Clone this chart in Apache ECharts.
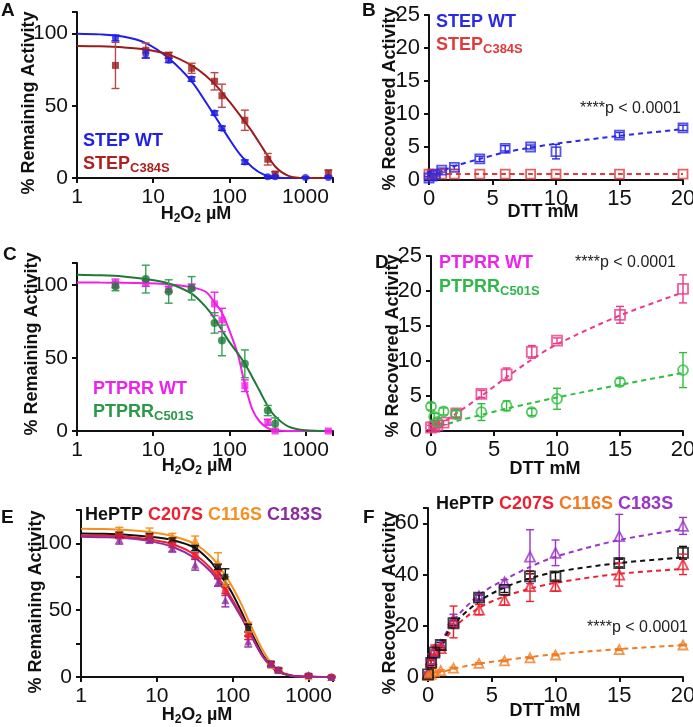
<!DOCTYPE html>
<html><head><meta charset="utf-8">
<script src="https://cdn.jsdelivr.net/npm/echarts@6/dist/echarts.min.js"></script>
<style>html,body{margin:0;padding:0;background:#fff}#c{width:693px;height:727px}</style>
</head><body><div id="c"></div><script>
// ---------- Panel A ----------
const concA_WT = [3.2, 8, 16, 32, 64, 80, 160, 320, 400, 1000, 2000];
const stepWT_A = [97, 86, 81.5, 68.5, 45, 34.5, 11, 0.8, 0.8, 0.3, 0.3];
const stepWT_A_err = [2, 3, 1.5, 1.5, 1.5, 1.5, 1.5, 0.5, 0.5, 0.5, 0.5];
const concA_C384S = [3.2, 8, 16, 32, 64, 80, 160, 320, 400, 2000];
const stepC384S_A = [78, 88.5, 85, 76, 67, 57, 40, 13, 2.8, 3.5];
const stepC384S_A_err = [16, 5, 2, 3.5, 6, 8, 7, 4, 1.5, 2];
const fitConcA = [1, 2, 4, 8, 16, 32, 50, 70, 100, 140, 200, 280, 400, 600, 1000, 2000];
const fitStepWT_A = [100, 99.5, 98, 93.5, 83, 67, 52, 40, 27, 16, 7.5, 2.5, 0.3, 0, 0, 0];
const fitStepC384S_A = [91.5, 91.2, 90.5, 89, 85.5, 78, 70.5, 63, 53, 43, 32, 20, 8, 1.5, 0, 0];
// ---------- Panel B ----------
const dttB = [0, 0.25, 0.5, 1, 2, 4, 6, 8, 10, 15, 20];
const stepWT_B = [0.3, 0.6, 0.8, 1.5, 1.9, 3.2, 4.8, 5.0, 4.3, 6.8, 7.9];
const stepWT_B_err = [0.2, 0.2, 0.2, 0.3, 0.3, 0.4, 0.4, 0.3, 1.1, 0.4, 0.4];
const stepC384S_B = [0.9, 0.9, 0.9, 0.9, 0.9, 0.9, 0.9, 0.9, 0.9, 0.9, 0.9];
const fitDttB = [0, 1, 2, 4, 6, 8, 10, 15, 20];
const fitStepWT_B = [0, 1.3, 2.1, 3.2, 4.2, 4.9, 5.5, 6.7, 7.7];
const fitStepC384S_B = [0.9, 0.9, 0.9, 0.9, 0.9, 0.9, 0.9, 0.9, 0.9];
// ---------- Panel C ----------
const concC_WT = [3.2, 8, 16, 32, 64, 80, 160, 320, 400, 2000];
const ptprrWT_C = [101, 101, 97, 98.5, 87, 76, 31, 6, 0, 0];
const ptprrWT_C_err = [3, 2, 2, 2, 8, 8, 4, 2, 0.5, 0.5];
const concC_C501S = [3.2, 8, 16, 32, 64, 80, 160, 320, 400];
const ptprrC501S_C = [99, 104, 95.5, 97.7, 74, 62, 46, 14, 5];
const ptprrC501S_C_err = [3, 9.5, 8, 8, 7, 10.5, 9.5, 3.5, 4];
const fitConcC = [1, 2, 4, 8, 16, 32, 50, 64, 80, 100, 130, 160, 200, 250, 320, 400, 600, 1000, 2000];
const fitWT_C = [101.7, 101.6, 101.5, 101.2, 100.5, 98.5, 95, 88, 81, 69, 52, 32, 15, 6.5, 2, 0.5, 0, 0, 0];
const fitC501S_C = [107, 106.6, 105.8, 104, 101, 94, 84.5, 77, 69, 61, 53, 46, 37, 27.5, 17, 10, 3, 0.5, 0];
// ---------- Panel D ----------
const dttD = [0, 0.25, 0.5, 1, 2, 4, 6, 8, 10, 15, 20];
const ptprrWT_D = [0.5, 0.6, 0.8, 1.2, 2.5, 5.3, 8.1, 11.3, 12.9, 16.6, 20.3];
const ptprrWT_D_err = [0.3, 0.3, 0.3, 0.3, 0.5, 0.5, 0.9, 0.9, 0.4, 1.2, 2];
const ptprrC501S_D = [3.5, 2, 1.3, 2.8, 2.4, 2.7, 3.6, 2.7, 4.6, 7, 8.7];
const ptprrC501S_D_err = [0.5, 0.5, 0.5, 0.5, 0.5, 1.2, 0.7, 0.5, 1.5, 0.5, 2.5];
const fitDttD = [0, 1, 2, 4, 6, 8, 10, 15, 20];
const fitWT_D = [0.2, 1.3, 2.5, 5, 7.7, 10.2, 12.4, 16.5, 19.8];
const fitC501S_D = [0.2, 0.8, 1.4, 2.3, 3.2, 4, 4.8, 6.6, 8.3];
// ---------- Panel E ----------
const concE = [3.2, 8, 16, 32, 64, 80, 160, 320, 400, 1000, 2000];
const heptp_E = [106.5, 105.5, 102.5, 96.5, 82.5, 75, 36.5, 10, 5.5, 1, 0];
const heptp_E_err = [2, 2, 1.5, 2, 2, 6, 3, 1.5, 1, 0.5, 0.5];
const c207s_E = [105.5, 104.5, 99, 91, 76.5, 64, 31, 9.5, 5, 1, 0];
const c207s_E_err = [2, 2, 2, 2, 3, 3, 3, 1.5, 1, 0.5, 0.5];
const c116s_E = [110, 108.5, 105.5, 102.5, 86, 71, 36, 9, 5, 0.5, 0];
const c116s_E_err = [2, 3, 2, 3, 7, 4, 5, 1.5, 1, 0.5, 0.5];
const c183s_E = [103, 102.5, 96.5, 84, 71, 57.5, 26.5, 9.7, 5.2, 1.5, 0];
const c183s_E_err = [3.5, 2, 3, 4, 3, 5, 4, 2, 1.5, 1, 0.5];
const fitConcE = [1, 2, 4, 8, 16, 32, 50, 64, 80, 100, 130, 160, 200, 250, 320, 400, 600, 1000, 2000];
const fitHeptp_E = [107.5, 107.2, 106.5, 105, 102.5, 96.5, 87, 79, 71, 62, 49, 38, 27, 16.5, 8.5, 4, 1, 0.2, 0];
const fitC207s_E = [106, 105.7, 105, 103, 99.5, 91.5, 82, 74.5, 66.5, 57.5, 46, 36, 25, 15.5, 8, 3.8, 0.9, 0.1, 0];
const fitC116s_E = [111, 110.7, 110, 108.5, 105.5, 99.5, 91, 84, 76, 67, 54.5, 43, 31, 20, 10.5, 5, 1.2, 0.2, 0];
const fitC183s_E = [105, 104.6, 103.8, 101.7, 97.5, 89, 79.5, 72, 64.5, 55.5, 44.5, 35, 24.5, 15, 7.8, 3.7, 0.9, 0.1, 0];
// ---------- Panel F ----------
const dttF = [0, 0.25, 0.5, 1, 2, 4, 6, 8, 10, 15, 20];
const heptp_F = [1, 5.5, 9.5, 12.5, 21, 31, 34, 39.3, 39.3, 44.5, 48.5];
const heptp_F_err = [0.5, 1, 1, 1, 1, 1, 1, 1, 1.5, 1.5, 2.5];
const c207s_F = [1, 6, 10.5, 11.3, 21.5, 26.3, 30, 35.5, 35.5, 40, 44];
const c207s_F_err = [0.5, 1, 2, 1, 6.2, 2, 2, 6, 2, 4.5, 4];
const c116s_F = [0.5, 1, 2, 2.5, 3.5, 5.3, 6.3, 7.5, 8.6, 10.7, 12.5];
const c116s_F_err = [0.3, 0.3, 0.3, 0.3, 0.3, 0.3, 0.3, 0.3, 0.3, 0.3, 0.3];
const c183s_F = [1.5, 7, 10, 12.5, 22.5, 31.5, 37, 47, 48.5, 55, 59];
const c183s_F_err = [0.5, 2, 2, 1, 2, 1, 1, 10.5, 5, 8.5, 3.3];
const fitDttF = [0, 0.5, 1, 2, 4, 6, 8, 10, 15, 20];
const fitHeptp_F = [0, 7, 12.5, 20.5, 29.5, 35, 38.5, 41, 44.5, 46.7];
const fitC207s_F = [0, 6.5, 11.5, 19, 27, 31.5, 34.5, 36.8, 40.3, 42.2];
const fitC116s_F = [0, 1, 1.8, 3.2, 5.2, 6.6, 7.8, 8.9, 10.9, 12.4];
const fitC183s_F = [0, 7.5, 13, 22, 32, 38, 43, 47, 53.5, 57.8];
// ---------- Tick labels ----------
const logTickLabels = [1, 10, 100, 1000];
const remTickLabels = [0, 50, 100];
const dttTickLabels = [0, 5, 10, 15, 20];

const FONT = '"Liberation Sans", Arial, sans-serif';
const chart = echarts.init(document.getElementById('c'), null, {renderer: 'canvas'});

const grids = [
  {left: 77, top: 12, width: 256, height: 166},
  {left: 429, top: 15, width: 254, height: 165},
  {left: 77, top: 263, width: 256, height: 168},
  {left: 431, top: 256, width: 252, height: 175},
  {left: 81, top: 510, width: 252, height: 167},
  {left: 428, top: 508, width: 255, height: 169}
].map(g => Object.assign({outerBoundsMode: 'none', containLabel: false}, g));

const axisLineStyle = {show: true, onZero: false, lineStyle: {color: '#111', width: 2}};
const axisTickStyle = {show: true, inside: false, length: 5, lineStyle: {color: '#111', width: 2}};

function logX(idx, max) {
  return {type: 'log', logBase: 10, gridIndex: idx, min: 1, max: max,
    axisLine: axisLineStyle, axisTick: axisTickStyle, splitLine: {show: false},
    axisLabel: {fontSize: 21, color: '#111', fontFamily: FONT, margin: 9,
      formatter: v => { const r = Math.round(v); return (logTickLabels.includes(r) && Math.abs(v - r) < 1e-6) ? String(r) : ''; }}};
}
function linX(idx) {
  return {type: 'value', gridIndex: idx, min: 0, max: 20, interval: 5,
    axisLine: axisLineStyle, axisTick: axisTickStyle, splitLine: {show: false},
    axisLabel: {fontSize: 22, color: '#111', fontFamily: FONT, margin: 8,
      formatter: v => dttTickLabels.includes(v) ? String(v) : ''}};
}
function linY(idx, max, interval, labels, fs) {
  return {type: 'value', gridIndex: idx, min: 0, max: max, interval: interval,
    axisLine: axisLineStyle, axisTick: axisTickStyle, splitLine: {show: false},
    axisLabel: {fontSize: fs, color: '#111', fontFamily: FONT, margin: 9,
      formatter: v => labels.includes(v) ? String(v) : ''}};
}

const xAxes = [logX(0, 2300), linX(1), logX(2, 2300), linX(3), logX(4, 2100), linX(5)];
const yAxes = [
  linY(0, 115, 50, remTickLabels, 21),
  linY(1, 25, 5, [0, 5, 10, 15, 20, 25], 22),
  linY(2, 115, 50, remTickLabels, 21),
  linY(3, 25, 5, [0, 5, 10, 15, 20, 25], 22),
  linY(4, 125, 25, remTickLabels, 21),
  linY(5, 66, 20, [0, 20, 40, 60], 22)
];

function pts(xs, ys) { return xs.map((x, i) => [x, ys[i]]); }
function errSeries(idx, xs, ys, es, color, cap) {
  return {type: 'custom', xAxisIndex: idx, yAxisIndex: idx, z: 3, silent: true, clip: false,
    data: xs.map((x, i) => [x, ys[i] - es[i], ys[i] + es[i]]),
    encode: {x: 0, y: [1, 2]},
    renderItem: (params, api) => {
      const x = api.value(0);
      const p1 = api.coord([x, api.value(1)]);
      const p2 = api.coord([x, api.value(2)]);
      const st = {stroke: color, lineWidth: 1.4};
      return {type: 'group', children: [
        {type: 'line', shape: {x1: p1[0], y1: p1[1], x2: p2[0], y2: p2[1]}, style: st},
        {type: 'line', shape: {x1: p1[0] - cap, y1: p1[1], x2: p1[0] + cap, y2: p1[1]}, style: st},
        {type: 'line', shape: {x1: p2[0] - cap, y1: p2[1], x2: p2[0] + cap, y2: p2[1]}, style: st}
      ]};
    }};
}
function marks(idx, xs, ys, symbol, size, color, open) {
  return {type: 'scatter', xAxisIndex: idx, yAxisIndex: idx, z: 4, silent: true, clip: false,
    symbol: symbol, symbolSize: size, data: pts(xs, ys),
    itemStyle: open ? {color: 'rgba(255,255,255,0)', borderColor: color, borderWidth: 1.8}
                    : {color: color, borderWidth: 0}};
}
function curve(idx, xs, ys, color, dashed) {
  return {type: 'line', xAxisIndex: idx, yAxisIndex: idx, z: 2, silent: true, smooth: 0.3,
    showSymbol: false, symbol: 'none', data: pts(xs, ys),
    lineStyle: {color: color, width: 2, type: dashed ? [5, 4] : 'solid'}};
}

const cBlueA = '#1f1fe8', cRedA = '#9b1c1c', cRedAErr = '#bb4848';
const cBlueB = '#2a2ae6', cRedB = '#e03a3a';
const cMagC = '#f020e6', cGreenC = '#1d7a35', cGreenCErr = '#35a055';
const cPinkD = '#ec3a8a', cGreenD = '#2fbf3f';
const cBlack = '#111111', cRedE = '#ee2030', cOrangeE = '#f7901e', cPurpleE = '#8e2aa0';
const cOrangeF = '#f27a22', cPurpleF = '#9b35c8';

const series = [
  // A
  curve(0, fitConcA, fitStepWT_A, cBlueA, false),
  curve(0, fitConcA, fitStepC384S_A, cRedA, false),
  errSeries(0, concA_C384S, stepC384S_A, stepC384S_A_err, cRedAErr, 4),
  errSeries(0, concA_WT, stepWT_A, stepWT_A_err, cBlueA, 4),
  marks(0, concA_C384S, stepC384S_A, 'rect', 7, cRedA, false),
  marks(0, concA_WT, stepWT_A, 'circle', 7, cBlueA, false),
  // B
  curve(1, fitDttB, fitStepWT_B, cBlueB, true),
  curve(1, fitDttB, fitStepC384S_B, cRedB, true),
  errSeries(1, dttB, stepWT_B, stepWT_B_err, cBlueB, 4),
  marks(1, dttB, stepC384S_B, 'rect', 9, cRedB, true),
  marks(1, dttB, stepWT_B, 'rect', 9, cBlueB, true),
  // C
  curve(2, fitConcC, fitWT_C, cMagC, false),
  curve(2, fitConcC, fitC501S_C, cGreenC, false),
  errSeries(2, concC_WT, ptprrWT_C, ptprrWT_C_err, cMagC, 4),
  errSeries(2, concC_C501S, ptprrC501S_C, ptprrC501S_C_err, cGreenCErr, 4),
  marks(2, concC_WT, ptprrWT_C, 'rect', 7, cMagC, false),
  marks(2, concC_C501S, ptprrC501S_C, 'circle', 8, cGreenC, false),
  // D
  curve(3, fitDttD, fitWT_D, cPinkD, true),
  curve(3, fitDttD, fitC501S_D, cGreenD, true),
  errSeries(3, dttD, ptprrWT_D, ptprrWT_D_err, cPinkD, 4),
  errSeries(3, dttD, ptprrC501S_D, ptprrC501S_D_err, cGreenD, 4),
  marks(3, dttD, ptprrWT_D, 'rect', 10, cPinkD, true),
  marks(3, dttD, ptprrC501S_D, 'circle', 10, cGreenD, true),
  // E
  curve(4, fitConcE, fitC116s_E, cOrangeE, false),
  curve(4, fitConcE, fitHeptp_E, cBlack, false),
  curve(4, fitConcE, fitC207s_E, cRedE, false),
  curve(4, fitConcE, fitC183s_E, '#9a2a9a', false),
  errSeries(4, concE, c116s_E, c116s_E_err, cOrangeE, 4),
  errSeries(4, concE, heptp_E, heptp_E_err, cBlack, 4),
  errSeries(4, concE, c207s_E, c207s_E_err, cRedE, 4),
  errSeries(4, concE, c183s_E, c183s_E_err, cPurpleE, 4),
  marks(4, concE, c116s_E, 'triangle', 8, cOrangeE, false),
  marks(4, concE, heptp_E, 'rect', 6, cBlack, false),
  marks(4, concE, c207s_E, 'circle', 7, cRedE, false),
  marks(4, concE, c183s_E, 'triangle', 8, cPurpleE, false),
  // F
  curve(5, fitDttF, fitC183s_F, cPurpleF, true),
  curve(5, fitDttF, fitHeptp_F, cBlack, true),
  curve(5, fitDttF, fitC207s_F, cRedE, true),
  curve(5, fitDttF, fitC116s_F, cOrangeF, true),
  errSeries(5, dttF, c183s_F, c183s_F_err, cPurpleF, 4),
  errSeries(5, dttF, heptp_F, heptp_F_err, cBlack, 4),
  errSeries(5, dttF, c207s_F, c207s_F_err, cRedE, 4),
  errSeries(5, dttF, c116s_F, c116s_F_err, cOrangeF, 4),
  marks(5, dttF, c183s_F, 'triangle', 10, cPurpleF, true),
  marks(5, dttF, c207s_F, 'triangle', 10, cRedE, true),
  marks(5, dttF, c116s_F, 'triangle', 9, cOrangeF, true),
  marks(5, dttF, heptp_F, 'rect', 10, cBlack, true)
];

// ---------- Text (panel letters, axis titles, legends) ----------
function txt(x, y, text, opt) {
  return Object.assign({type: 'text', x: x, y: y, z: 10, silent: true,
    style: Object.assign({text: text, font: 'bold 18px ' + FONT, fill: '#111',
      textAlign: 'left', verticalAlign: 'middle'}, (opt && opt.style) || {})},
    (opt && opt.el) || {});
}
function subTxt(x, y, main, sub, color, align) {
  return {type: 'text', x: x, y: y, z: 10, silent: true,
    style: {text: '{m|' + main + '}{s|' + sub + '}', fill: color, textAlign: align || 'left', verticalAlign: 'middle',
      font: 'bold 18px ' + FONT,
      rich: {m: {font: 'bold 18px ' + FONT, fill: color, lineHeight: 22},
             s: {font: 'bold 13px ' + FONT, fill: color, lineHeight: 12, verticalAlign: 'bottom'}}}};
}
function h2o2(x, y) {
  return {type: 'text', x: x, y: y, z: 10, silent: true,
    style: {text: '{m|H}{s|2}{m|O}{s|2}{m| µM}', fill: '#111', textAlign: 'center', verticalAlign: 'middle',
      font: 'bold 18px ' + FONT,
      rich: {m: {font: 'bold 18px ' + FONT, fill: '#111', lineHeight: 22},
             s: {font: 'bold 12px ' + FONT, fill: '#111', lineHeight: 12, verticalAlign: 'bottom'}}}};
}
function yTitle(x, y, text) {
  return {type: 'text', x: x, y: y, rotation: Math.PI / 2, z: 10, silent: true,
    style: {text: text, font: 'bold 18px ' + FONT, fill: '#111', textAlign: 'center', verticalAlign: 'middle'}};
}
function multi(x, y, parts) {
  // parts: [[text,color],...]
  const rich = {};
  let t = '';
  parts.forEach((p, i) => { rich['p' + i] = {font: 'bold 18px ' + FONT, fill: p[1]}; t += '{p' + i + '|' + p[0] + '}'; });
  return {type: 'text', x: x, y: y, z: 10, silent: true,
    style: {text: t, rich: rich, font: 'bold 18px ' + FONT, textAlign: 'left', verticalAlign: 'middle'}};
}
const pStyle = {style: {font: '16px ' + FONT, fill: '#222', textAlign: 'right'}};

const graphics = [
  txt(1, 11, 'A', {style: {font: 'bold 19px ' + FONT}}),
  txt(362, 11, 'B', {style: {font: 'bold 19px ' + FONT}}),
  txt(3, 255, 'C', {style: {font: 'bold 19px ' + FONT}}),
  txt(375, 263, 'D', {style: {font: 'bold 19px ' + FONT}}),
  txt(1, 518, 'E', {style: {font: 'bold 19px ' + FONT}}),
  txt(363, 518, 'F', {style: {font: 'bold 19px ' + FONT}}),
  yTitle(29, 103, '% Remaining Activity'),
  yTitle(390, 99, '% Recovered Activity'),
  yTitle(32, 344, '% Remaining Activity'),
  yTitle(393, 346, '% Recovered Activity'),
  yTitle(36, 602, '% Remaining Activity'),
  yTitle(390, 603, '% Recovered Activity'),
  h2o2(196, 214),
  txt(543, 212, 'DTT mM', {style: {textAlign: 'center'}}),
  h2o2(197, 466),
  txt(545, 469, 'DTT mM', {style: {textAlign: 'center'}}),
  h2o2(197, 715),
  txt(545, 711, 'DTT mM', {style: {textAlign: 'center'}}),
  // legends
  txt(83, 141, 'STEP WT', {style: {fill: cBlueA}}),
  subTxt(83, 164, 'STEP', 'C384S', '#b01e1e'),
  txt(436, 22, 'STEP WT', {style: {fill: cBlueB}}),
  subTxt(436, 45, 'STEP', 'C384S', cRedB),
  txt(681, 109, '****p < 0.0001', pStyle),
  txt(93, 389, 'PTPRR WT', {style: {fill: '#ee22ee'}}),
  subTxt(93, 412, 'PTPRR', 'C501S', '#2a9a4a'),
  txt(439, 263, 'PTPRR WT', {style: {fill: '#ee22ee'}}),
  subTxt(439, 287, 'PTPRR', 'C501S', '#2fb84a'),
  txt(676, 263, '****p < 0.0001', pStyle),
  multi(85, 515, [['HePTP ', cBlack], ['C207S ', cRedE], ['C116S ', cOrangeE], ['C183S', cPurpleE]]),
  multi(436, 504, [['HePTP ', cBlack], ['C207S ', cRedE], ['C116S ', cOrangeF], ['C183S', cPurpleF]]),
  txt(688, 628, '****p < 0.0001', pStyle)
];

chart.setOption({
  animation: false,
  backgroundColor: '#ffffff',
  grid: grids,
  xAxis: xAxes,
  yAxis: yAxes,
  series: series,
  graphic: graphics
});
</script></body></html>
